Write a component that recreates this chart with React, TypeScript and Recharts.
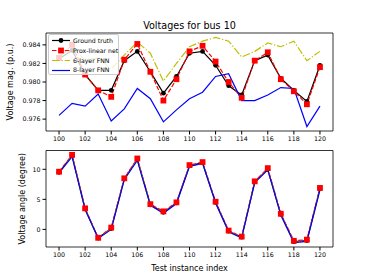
import { LineChart, Line, XAxis, YAxis, ReferenceArea } from "recharts";

const INDEX = [100, 101, 102, 103, 104, 105, 106, 107, 108, 109, 110, 111, 112, 113, 114, 115, 116, 117, 118, 119, 120];

// voltage magnitude (p.u.)
const MAG_TRUTH = [0.9825, 0.9834, 0.9808, 0.9791, 0.9791, 0.9823, 0.9833, 0.9811, 0.9788, 0.9806, 0.9831, 0.9833, 0.9818, 0.9796, 0.9786, 0.9823, 0.9829, 0.9804, 0.9791, 0.9779, 0.9818];
const MAG_PROX = [0.9826, 0.984, 0.9808, 0.9791, 0.9784, 0.9824, 0.9841, 0.9811, 0.978, 0.9803, 0.9833, 0.9839, 0.9822, 0.98, 0.9783, 0.9823, 0.9832, 0.9803, 0.979, 0.9776, 0.9816];
const MAG_FNN6 = [0.9828, 0.9836, 0.9824, 0.9826, 0.9814, 0.9829, 0.9843, 0.9831, 0.9801, 0.982, 0.9838, 0.9844, 0.9848, 0.9844, 0.9827, 0.9833, 0.9842, 0.9838, 0.9844, 0.9823, 0.9833];
const MAG_FNN8 = [0.9764, 0.9777, 0.9774, 0.9787, 0.9758, 0.9771, 0.9793, 0.9782, 0.9757, 0.977, 0.9782, 0.9789, 0.9806, 0.9809, 0.978, 0.978, 0.9786, 0.9794, 0.9793, 0.9752, 0.9774];

// voltage angle (degree)
const ANG_TRUTH = [9.5, 12.3, 3.4, -1.45, 0.15, 8.4, 11.7, 4.1, 2.85, 4.4, 10.6, 11.1, 4.5, -0.3, -1.3, 7.9, 10.0, 2.5, -2.05, -1.85, 6.8];
const ANG_PROX = [9.6, 12.4, 3.5, -1.4, 0.3, 8.5, 11.8, 4.2, 3.0, 4.5, 10.7, 11.2, 4.6, -0.2, -1.2, 8.0, 10.2, 2.6, -1.9, -1.7, 6.9];
const ANG_FNN6 = [9.4, 12.2, 3.3, -1.5, 0.05, 8.3, 11.6, 4.0, 2.75, 4.3, 10.5, 11.0, 4.4, -0.4, -1.4, 7.8, 9.95, 2.4, -2.15, -1.95, 6.65];
const ANG_FNN8 = [9.4, 12.1, 3.3, -1.5, 0.0, 8.3, 11.5, 4.0, 2.7, 4.3, 10.5, 11.0, 4.4, -0.4, -1.4, 7.8, 9.9, 2.4, -2.2, -2.0, 6.6];

const X_TICKS = [100, 102, 104, 106, 108, 110, 112, 114, 116, 118, 120];
const MAG_TICKS = [0.976, 0.978, 0.98, 0.982, 0.984];
const ANG_TICKS = [0, 5, 10];

const LABELS = ["Ground truth", "Prox-linear net", "6-layer FNN", "8-layer FNN"];

const magData = INDEX.map((x, i) => ({ x, truth: MAG_TRUTH[i], prox: MAG_PROX[i], fnn6: MAG_FNN6[i], fnn8: MAG_FNN8[i] }));
const angData = INDEX.map((x, i) => ({ x, truth: ANG_TRUTH[i], prox: ANG_PROX[i], fnn6: ANG_FNN6[i], fnn8: ANG_FNN8[i] }));

const FONT = "DejaVu Sans";
const tick = { fontSize: 6.3, fill: "#000", fontFamily: FONT };
const YELLOW = "#bfbf00";

function Square(props: any) {
  const { cx, cy } = props;
  if (cx == null || cy == null) return null;
  return <rect x={cx - 2.9} y={cy - 2.9} width={5.8} height={5.8} fill="#ff0000" />;
}

function LegendBox() {
  const rows = [
    { color: "#000", dash: undefined, marker: "circle" },
    { color: "#ff0000", dash: "4.5 1.9", marker: "square" },
    { color: YELLOW, dash: "7.7 1.9 1.2 1.9", marker: "" },
    { color: "#0000ff", dash: undefined, marker: "" },
  ];
  return (
    <div style={{ position: "absolute", left: 48, top: 34, width: 71, height: 41, boxSizing: "border-box", background: "rgba(255,255,255,0.8)", border: "1px solid #ccc", borderRadius: 2, padding: "1px 0 0 0", fontFamily: FONT, fontSize: 6.2, lineHeight: "9.8px", whiteSpace: "nowrap" }}>
      {rows.map((r, i) => (
        <div key={i} style={{ display: "flex", alignItems: "center", height: 9.8 }}>
          <svg width={21} height={9} style={{ marginLeft: 2, flex: "none" }}>
            <line x1={1} y1={4.5} x2={19} y2={4.5} stroke={r.color} strokeWidth={1.2} strokeDasharray={r.dash} />
            {r.marker === "circle" && <circle cx={10} cy={4.5} r={2.4} fill="#000" />}
            {r.marker === "square" && <rect x={7.1} y={1.6} width={5.8} height={5.8} fill="#ff0000" />}
          </svg>
          <span style={{ marginLeft: 1, color: "#000" }}>{LABELS[i]}</span>
        </div>
      ))}
    </div>
  );
}

export default function App() {
  const lines = [
    <Line key="truth" dataKey="truth" stroke="#000" strokeWidth={1.2} dot={{ r: 2.4, fill: "#000", stroke: "#000", strokeWidth: 0 }} isAnimationActive={false} />,
    <Line key="prox" dataKey="prox" stroke="#ff0000" strokeWidth={1.2} strokeDasharray="4.5 1.9" dot={<Square />} isAnimationActive={false} />,
    <Line key="fnn6" dataKey="fnn6" stroke={YELLOW} strokeWidth={1.2} strokeDasharray="7.7 1.9 1.2 1.9" dot={false} isAnimationActive={false} />,
    <Line key="fnn8" dataKey="fnn8" stroke="#0000ff" strokeWidth={1.2} dot={false} isAnimationActive={false} />,
  ];

  return (
    <div style={{ position: "absolute", left: 0, top: 0, width: 371, height: 279, background: "#fff" }}>
      <div style={{ position: "absolute", left: 0, top: 0 }}>
        <LineChart width={371} height={150} data={magData} margin={{ top: 33, right: 38, bottom: 5, left: 0 }}>
          <XAxis dataKey="x" type="number" domain={[99, 121]} ticks={X_TICKS} height={14} tick={tick} tickSize={3.5} tickMargin={2} axisLine={false} stroke="#000" />
          <YAxis type="number" domain={[0.97472, 0.98528]} ticks={MAG_TICKS} width={46} tick={tick} tickSize={3.5} tickMargin={2} axisLine={false} stroke="#000" tickFormatter={(v: number) => v.toFixed(3)} />
          {lines}
          <ReferenceArea x1={99} x2={121} y1={0.97472} y2={0.98528} fill="none" stroke="#000" strokeWidth={0.8} ifOverflow="visible" />
        </LineChart>
      </div>
      <div style={{ position: "absolute", left: 0, top: 140 }}>
        <LineChart width={371} height={139} data={angData} margin={{ top: 10.5, right: 38, bottom: 4, left: 0 }}>
          <XAxis dataKey="x" type="number" domain={[99, 121]} ticks={X_TICKS} height={28} tick={tick} tickSize={3.5} tickMargin={2} axisLine={false} stroke="#000" />
          <YAxis type="number" domain={[-2.93, 13.13]} ticks={ANG_TICKS} width={46} tick={tick} tickSize={3.5} tickMargin={2} axisLine={false} stroke="#000" />
          {lines}
          <ReferenceArea x1={99} x2={121} y1={-2.93} y2={13.13} fill="none" stroke="#000" strokeWidth={0.8} ifOverflow="visible" />
        </LineChart>
      </div>
      <LegendBox />
      <svg width={371} height={279} style={{ position: "absolute", left: 0, top: 0, pointerEvents: "none" }}>
        <text x={189.5} y={28.5} textAnchor="middle" fontFamily={FONT} fontSize={9.6} fill="#000">Voltages for bus 10</text>
        <text x={13} y={82} textAnchor="middle" fontFamily={FONT} fontSize={8} fill="#000" transform="rotate(-90 13 82)">Voltage mag. (p.u.)</text>
        <text x={25} y={198.8} textAnchor="middle" fontFamily={FONT} fontSize={8} fill="#000" transform="rotate(-90 25 198.8)">Voltage angle (degree)</text>
        <text x={189.5} y={270.7} textAnchor="middle" fontFamily={FONT} fontSize={8} fill="#000">Test instance index</text>
      </svg>
    </div>
  );
}
